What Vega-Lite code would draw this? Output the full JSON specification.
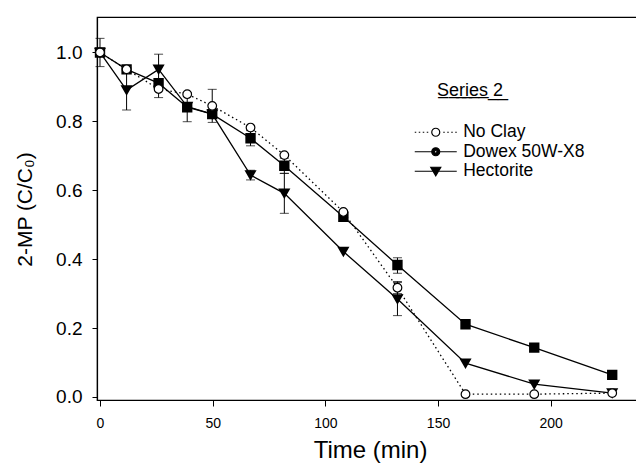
{
  "$schema": "https://vega.github.io/schema/vega-lite/v6.json",
  "width": 540,
  "height": 383,
  "autosize": {"type": "none"},
  "padding": {"left": 97, "top": 17, "right": 0, "bottom": 68},
  "background": "white",
  "config": {
    "view": {"stroke": "black", "strokeWidth": 1.2},
    "font": "Liberation Sans",
    "axis": {"grid": false, "domainColor": "black", "tickColor": "black", "labelColor": "black", "titleColor": "black", "labelFont": "Liberation Sans", "titleFont": "Liberation Sans", "titleFontWeight": "normal", "domainWidth": 1.2, "tickWidth": 1},
    "legend": {"padding": 0, "labelFontSize": 17.5, "labelFont": "Liberation Sans", "labelColor": "black", "titleFontSize": 18, "titleFont": "Liberation Sans", "titleFontWeight": "normal", "titleColor": "black", "titlePadding": 24, "rowPadding": 0.5, "symbolSize": 100, "symbolStrokeColor": "black", "symbolStrokeWidth": 1.2, "labelOffset": 18.7, "symbolOpacity": 1}
  },
  "datasets": {
    "pts": [
      {"series": "No Clay", "time": 0, "value": 1.0},
      {"series": "No Clay", "time": 11.8, "value": 0.951},
      {"series": "No Clay", "time": 26, "value": 0.894},
      {"series": "No Clay", "time": 38.7, "value": 0.879},
      {"series": "No Clay", "time": 49.8, "value": 0.845},
      {"series": "No Clay", "time": 66.8, "value": 0.782},
      {"series": "No Clay", "time": 81.8, "value": 0.702},
      {"series": "No Clay", "time": 108, "value": 0.537},
      {"series": "No Clay", "time": 132, "value": 0.317},
      {"series": "No Clay", "time": 162.2, "value": 0.008},
      {"series": "No Clay", "time": 192.7, "value": 0.008},
      {"series": "No Clay", "time": 227.3, "value": 0.011},
      {"series": "Dowex 50W-X8", "time": 0, "value": 1.0},
      {"series": "Dowex 50W-X8", "time": 11.8, "value": 0.951},
      {"series": "Dowex 50W-X8", "time": 26, "value": 0.911},
      {"series": "Dowex 50W-X8", "time": 38.7, "value": 0.841},
      {"series": "Dowex 50W-X8", "time": 49.8, "value": 0.821},
      {"series": "Dowex 50W-X8", "time": 66.8, "value": 0.751},
      {"series": "Dowex 50W-X8", "time": 81.8, "value": 0.671},
      {"series": "Dowex 50W-X8", "time": 108, "value": 0.523},
      {"series": "Dowex 50W-X8", "time": 132, "value": 0.383},
      {"series": "Dowex 50W-X8", "time": 162.2, "value": 0.211},
      {"series": "Dowex 50W-X8", "time": 192.7, "value": 0.143},
      {"series": "Dowex 50W-X8", "time": 227.3, "value": 0.064},
      {"series": "Hectorite", "time": 0, "value": 1.0},
      {"series": "Hectorite", "time": 11.8, "value": 0.891},
      {"series": "Hectorite", "time": 26, "value": 0.951},
      {"series": "Hectorite", "time": 38.7, "value": 0.843},
      {"series": "Hectorite", "time": 49.8, "value": 0.821},
      {"series": "Hectorite", "time": 66.8, "value": 0.644},
      {"series": "Hectorite", "time": 81.8, "value": 0.591},
      {"series": "Hectorite", "time": 108, "value": 0.422},
      {"series": "Hectorite", "time": 132, "value": 0.284},
      {"series": "Hectorite", "time": 162.2, "value": 0.098},
      {"series": "Hectorite", "time": 192.7, "value": 0.037},
      {"series": "Hectorite", "time": 227.3, "value": 0.011}
    ],
    "err": [
      {"series": "No Clay", "time": 0, "lo": 0.959, "hi": 1.041},
      {"series": "No Clay", "time": 26, "lo": 0.869, "hi": 0.917},
      {"series": "No Clay", "time": 49.8, "lo": 0.797, "hi": 0.893},
      {"series": "No Clay", "time": 132, "lo": 0.3, "hi": 0.335},
      {"series": "Dowex 50W-X8", "time": 38.7, "lo": 0.799, "hi": 0.883},
      {"series": "Dowex 50W-X8", "time": 66.8, "lo": 0.729, "hi": 0.773},
      {"series": "Dowex 50W-X8", "time": 81.8, "lo": 0.649, "hi": 0.693},
      {"series": "Dowex 50W-X8", "time": 132, "lo": 0.359, "hi": 0.404},
      {"series": "Hectorite", "time": 11.8, "lo": 0.833, "hi": 0.949},
      {"series": "Hectorite", "time": 26, "lo": 0.907, "hi": 0.995},
      {"series": "Hectorite", "time": 66.8, "lo": 0.63, "hi": 0.658},
      {"series": "Hectorite", "time": 81.8, "lo": 0.533, "hi": 0.649},
      {"series": "Hectorite", "time": 132, "lo": 0.236, "hi": 0.332}
    ]
  },
  "layer": [
    {
      "data": {"name": "err"},
      "mark": {"type": "rule", "color": "black", "strokeWidth": 1},
      "encoding": {
        "x": {"field": "time", "type": "quantitative", "scale": {"domain": [-1.33, 238.3], "nice": false, "zero": false},
          "axis": {"values": [0, 50, 100, 150, 200], "tickSize": 6, "labelFontSize": 14, "labelPadding": 10, "title": "Time (min)", "titleFontSize": 24, "titleBaseline": "alphabetic", "titleY": 57, "titleX": 273}},
        "y": {"field": "lo", "type": "quantitative", "scale": {"domain": [-0.009, 1.103], "nice": false, "zero": false},
          "axis": {"values": [0, 0.2, 0.4, 0.6, 0.8, 1.0], "format": ".1f", "tickSize": 5, "labelFontSize": 19, "labelPadding": 10, "title": "2-MP (C/C₀)", "titleFontSize": 21, "titleAngle": -90, "titleBaseline": "alphabetic", "titleAlign": "center", "titleX": -66, "titleY": 192}},
        "y2": {"field": "hi"}
      }
    },
    {
      "data": {"name": "err"},
      "mark": {"type": "tick", "orient": "horizontal", "color": "black", "size": 9, "thickness": 1},
      "encoding": {"x": {"field": "time", "type": "quantitative"}, "y": {"field": "lo", "type": "quantitative"}}
    },
    {
      "data": {"name": "err"},
      "mark": {"type": "tick", "orient": "horizontal", "color": "black", "size": 9, "thickness": 1},
      "encoding": {"x": {"field": "time", "type": "quantitative"}, "y": {"field": "hi", "type": "quantitative"}}
    },
    {
      "data": {"name": "pts"},
      "transform": [{"filter": "datum.series === 'No Clay'"}],
      "mark": {"type": "line", "color": "black", "strokeWidth": 1.3, "strokeDash": [1.5, 3]},
      "encoding": {
        "x": {"field": "time", "type": "quantitative"},
        "y": {"field": "value", "type": "quantitative"}
      }
    },
    {
      "data": {"name": "pts"},
      "transform": [{"filter": "datum.series !== 'No Clay'"}],
      "mark": {"type": "line", "color": "black", "strokeWidth": 1.3},
      "encoding": {
        "x": {"field": "time", "type": "quantitative"},
        "y": {"field": "value", "type": "quantitative"},
        "detail": {"field": "series"}
      }
    },
    {
      "data": {"name": "pts"},
      "transform": [{"filter": "datum.time === 0"}],
      "mark": {"type": "point", "filled": true, "stroke": "black", "opacity": 0},
      "encoding": {
        "x": {"field": "time", "type": "quantitative"},
        "y": {"field": "value", "type": "quantitative"},
        "shape": {"field": "series", "type": "nominal",
          "scale": {"domain": ["No Clay", "Dowex 50W-X8", "Hectorite"],
            "range": [
              "M-4.2,0H-3.9M-3.4,0H-3.1M-2.6,0H-2.3M-1.8,0H-1.5M1.5,0H1.8M2.3,0H2.6M3.1,0H3.4M3.9,0H4.2M-0.8,0A0.8,0.8 0 1,0 0.8,0A0.8,0.8 0 1,0 -0.8,0Z",
              "M-4.2,0H-0.8M0.8,0H4.2M-0.8,0A0.8,0.8 0 1,0 0.8,0A0.8,0.8 0 1,0 -0.8,0ZM-0.25,0A0.25,0.25 0 1,1 0.25,0A0.25,0.25 0 1,1 -0.25,0Z",
              "M-4.2,0H4.2M-1,-0.8L1,-0.8L0,0.9Z"
            ]},
          "legend": {"title": "S̲e̲r̲i̲e̲s̲ ̲2̲", "orient": "none", "legendX": 330, "legendY": 64.5,
            "encode": {"symbols": {"update": {"stroke": {"value": "black"}, "strokeWidth": {"value": 1.2}, "opacity": {"value": 1}}}, "title": {"update": {"dx": {"value": 10}}}}}
        },
        "fill": {"field": "series", "type": "nominal",
          "scale": {"domain": ["No Clay", "Dowex 50W-X8", "Hectorite"], "range": ["white", "black", "black"]},
          "legend": {"title": "S̲e̲r̲i̲e̲s̲ ̲2̲", "orient": "none", "legendX": 330, "legendY": 64.5,
            "encode": {"symbols": {"update": {"stroke": {"value": "black"}, "strokeWidth": {"value": 1.2}, "opacity": {"value": 1}}}, "title": {"update": {"dx": {"value": 10}}}}}
        }
      }
    },
    {
      "data": {"name": "pts"},
      "transform": [{"filter": "datum.series === 'Hectorite'"}],
      "mark": {"type": "point", "shape": "triangle-down", "filled": true, "fill": "black", "stroke": "black", "size": 75, "opacity": 1},
      "encoding": {"x": {"field": "time", "type": "quantitative"}, "y": {"field": "value", "type": "quantitative"}}
    },
    {
      "data": {"name": "pts"},
      "transform": [{"filter": "datum.series === 'Dowex 50W-X8'"}],
      "mark": {"type": "point", "shape": "square", "filled": true, "fill": "black", "stroke": "black", "size": 70, "opacity": 1},
      "encoding": {"x": {"field": "time", "type": "quantitative"}, "y": {"field": "value", "type": "quantitative"}}
    },
    {
      "data": {"name": "pts"},
      "transform": [{"filter": "datum.series === 'No Clay'"}],
      "mark": {"type": "point", "shape": "circle", "filled": true, "fill": "white", "stroke": "black", "strokeWidth": 1.2, "size": 75, "opacity": 1},
      "encoding": {"x": {"field": "time", "type": "quantitative"}, "y": {"field": "value", "type": "quantitative"}}
    }
  ]
}
